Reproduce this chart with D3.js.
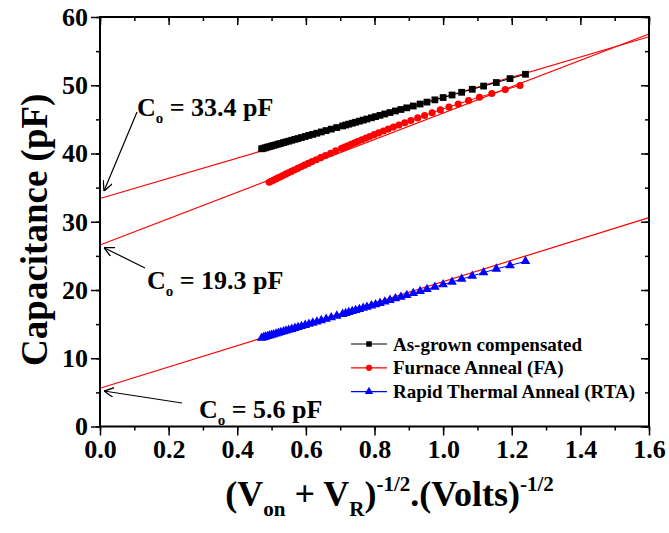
<!DOCTYPE html>
<html>
<head>
<meta charset="utf-8">
<script src="https://cdnjs.cloudflare.com/ajax/libs/d3/7.8.5/d3.min.js"></script>
<style>
    html, body { margin: 0; padding: 0; background: #fff; }
    #chart { width: 669px; height: 533px; }
    text { font-family: "Liberation Serif", "Times New Roman", serif; font-weight: bold; }
</style>
</head>
<body>
<div id="chart"></div>
<script>
// data

var seriesNames = ['As-grown compensated', 'Furnace Anneal (FA)', 'Rapid Thermal Anneal (RTA)'];
var seriesColors = ['#000000', '#ff0000', '#0000ff'];

// x for as-grown and RTA
var xGrown = [1.240, 1.195, 1.155, 1.118, 1.085, 1.054, 1.026, 1.000, 0.976, 0.953, 0.933, 0.913, 0.894, 0.877,
    0.861, 0.845, 0.830, 0.816, 0.803, 0.791, 0.778, 0.767, 0.756, 0.745, 0.735, 0.725, 0.716, 0.707,
    0.690, 0.674, 0.659, 0.645, 0.632, 0.620, 0.609, 0.598, 0.587, 0.577, 0.568, 0.559, 0.550, 0.542,
    0.535, 0.527, 0.520, 0.513, 0.506, 0.500, 0.494, 0.488, 0.482, 0.477, 0.471];

var yGrown = [51.61, 50.97, 50.40, 49.88, 49.41, 48.97, 48.57, 48.20, 47.86, 47.53, 47.25, 46.96, 46.69, 46.45,
    46.23, 46.00, 45.79, 45.59, 45.40, 45.23, 45.05, 44.89, 44.74, 44.58, 44.44, 44.30, 44.17, 44.04,
    43.80, 43.57, 43.36, 43.16, 42.97, 42.80, 42.65, 42.49, 42.34, 42.19, 42.07, 41.94, 41.81, 41.70,
    41.60, 41.48, 41.38, 41.28, 41.19, 41.10, 41.01, 40.93, 40.84, 40.77, 40.69];

var xFA = [1.224, 1.181, 1.142, 1.106, 1.074, 1.044, 1.017, 0.992, 0.968, 0.946, 0.926, 0.906, 0.888, 0.871,
    0.855, 0.840, 0.826, 0.812, 0.799, 0.786, 0.775, 0.763, 0.752, 0.742, 0.732, 0.722, 0.713, 0.704,
    0.687, 0.672, 0.657, 0.643, 0.630, 0.618, 0.607, 0.596, 0.586, 0.576, 0.566, 0.558, 0.549, 0.541,
    0.533, 0.526, 0.519, 0.512, 0.505, 0.499, 0.493];

var yFA = [49.96, 49.36, 48.79, 48.25, 47.75, 47.26, 46.81, 46.39, 45.97, 45.57, 45.21, 44.84, 44.50, 44.18,
    43.87, 43.58, 43.30, 43.02, 42.76, 42.49, 42.26, 42.01, 41.78, 41.57, 41.36, 41.14, 40.95, 40.75,
    40.38, 40.04, 39.70, 39.39, 39.09, 38.81, 38.55, 38.29, 38.06, 37.82, 37.58, 37.38, 37.17, 36.97,
    36.77, 36.60, 36.43, 36.25, 36.08, 35.93, 35.78];

var yRTA = [24.20, 23.60, 23.09, 22.55, 22.06, 21.60, 21.18, 20.80, 20.44, 20.10, 19.81, 19.51, 19.23, 18.98,
    18.74, 18.51, 18.28, 18.08, 17.88, 17.71, 17.51, 17.35, 17.19, 17.03, 16.88, 16.73, 16.60, 16.46,
    16.21, 15.98, 15.75, 15.55, 15.35, 15.18, 15.01, 14.85, 14.69, 14.54, 14.41, 14.27, 14.14, 14.02,
    13.92, 13.80, 13.70, 13.59, 13.49, 13.40, 13.31, 13.22, 13.13, 13.06, 12.97];

// linear fits, value at x = 0 and at x = 1.6
var fitStart = [33.4, 26.6, 5.6];
var fitEnd = [57.1, 57.5, 30.6];

var xTicks = [0.0, 0.2, 0.4, 0.6, 0.8, 1.0, 1.2, 1.4, 1.6];
var yTicks = [0, 10, 20, 30, 40, 50, 60];

// annotations: label, value the arrow points to
var notes = ['33.4', '19.3', '5.6'];
var noteTargets = [34.5, 26.2, 5.2];


function Chart() {
    this.config = {
        width: 669,
        height: 533,
        plot: { left: 100, right: 649, top: 17, bottom: 426.5 },
        tick: { major: 9, minor: 4 },
        fontTick: 26,
        fontTitle: 36
    };
    this.svg = null;
    this.x = null;
    this.y = null;
}

Chart.prototype.init = function(element) {
    var c = this.config;
    this.svg = d3.select(element).append('svg')
        .attr('width', c.width)
        .attr('height', c.height);
    this.x = d3.scaleLinear().domain([0, 1.6]).range([c.plot.left, c.plot.right]);
    this.y = d3.scaleLinear().domain([0, 60]).range([c.plot.bottom, c.plot.top]);
    this.svg.append('defs').append('marker')
        .attr('id', 'arrow')
        .attr('viewBox', '0 0 10 10')
        .attr('refX', 10).attr('refY', 5)
        .attr('markerWidth', 10).attr('markerHeight', 10)
        .attr('markerUnits', 'userSpaceOnUse')
        .attr('orient', 'auto')
        .append('path')
        .attr('d', 'M0,0 L10,5 L0,10')
        .attr('fill', 'none')
        .attr('stroke', '#000')
        .attr('stroke-width', 1.3);
};

Chart.prototype.draw = function() {
    this.drawFits();
    this.drawSeries(xGrown, yGrown, 0, d3.symbolSquare, 46);
    this.drawSeries(xFA, yFA, 1, d3.symbolCircle, 40);
    this.drawSeries(xGrown, yRTA, 2, d3.symbolTriangle, 40);
    this.drawAxes();
    this.drawNotes();
    this.drawLegend();
    this.drawTitles();
};

Chart.prototype.drawFits = function() {
    var self = this;
    var g = this.svg.append('g').attr('class', 'fits');
    g.selectAll('line').data(fitStart).enter().append('line')
        .attr('x1', self.x(0))
        .attr('y1', function(d) { return self.y(d); })
        .attr('x2', self.x(1.6))
        .attr('y2', function(d, i) { return self.y(fitEnd[i]); })
        .attr('stroke', '#ff0000')
        .attr('stroke-width', 1.2);
};

Chart.prototype.drawSeries = function(xs, ys, index, symbol, size) {
    var self = this,
        color = seriesColors[index],
        pts = xs.map(function(v, i) { return [v, ys[i]]; });
    var g = this.svg.append('g').attr('class', 'series series-' + index);
    g.append('path')
        .attr('d', d3.line().x(function(d) { return self.x(d[0]); }).y(function(d) { return self.y(d[1]); })(pts))
        .attr('fill', 'none')
        .attr('stroke', color)
        .attr('stroke-width', 1);
    g.selectAll('path.pt').data(pts).enter().append('path')
        .attr('class', 'pt')
        .attr('d', d3.symbol().type(symbol).size(size))
        .attr('transform', function(d) { return 'translate(' + self.x(d[0]) + ',' + self.y(d[1]) + ')'; })
        .attr('fill', color);
};

Chart.prototype.drawAxes = function() {
    var c = this.config,
        xMinor = d3.range(0, 17).map(function(i) { return i / 10; }),
        yMinor = d3.range(0, 13).map(function(i) { return i * 5; });

    this.svg.append('g').attr('transform', 'translate(0,' + c.plot.bottom + ')')
        .call(d3.axisBottom(this.x).tickValues(xMinor).tickSize(c.tick.minor).tickFormat(''));
    this.svg.append('g').attr('transform', 'translate(0,' + c.plot.bottom + ')')
        .call(d3.axisBottom(this.x).tickValues(xTicks).tickSize(c.tick.major).tickPadding(4).tickFormat(d3.format('.1f')));
    this.svg.append('g').attr('transform', 'translate(0,' + c.plot.top + ')')
        .call(d3.axisBottom(this.x).tickValues(xMinor).tickSize(c.tick.minor).tickFormat(''));
    this.svg.append('g').attr('transform', 'translate(0,' + c.plot.top + ')')
        .call(d3.axisBottom(this.x).tickValues(xTicks).tickSize(c.tick.major - 1).tickFormat(''));

    this.svg.append('g').attr('transform', 'translate(' + c.plot.left + ',0)')
        .call(d3.axisLeft(this.y).tickValues(yMinor).tickSize(c.tick.minor).tickFormat(''));
    this.svg.append('g').attr('transform', 'translate(' + c.plot.left + ',0)')
        .call(d3.axisLeft(this.y).tickValues(yTicks).tickSize(c.tick.major).tickPadding(3).tickFormat(d3.format('d')));
    this.svg.append('g').attr('transform', 'translate(' + c.plot.right + ',0)')
        .call(d3.axisLeft(this.y).tickValues(yMinor).tickSize(c.tick.minor).tickFormat(''));
    this.svg.append('g').attr('transform', 'translate(' + c.plot.right + ',0)')
        .call(d3.axisLeft(this.y).tickValues(yTicks).tickSize(c.tick.major - 1).tickFormat(''));

    this.svg.selectAll('.domain').remove();
    this.svg.selectAll('.tick line').attr('stroke', '#000').attr('stroke-width', 1.5);
    this.svg.selectAll('.tick text')
        .attr('font-size', c.fontTick)
        .attr('font-family', '"Liberation Serif", serif')
        .attr('font-weight', 'bold')
        .attr('fill', '#000');

    this.svg.append('rect')
        .attr('x', c.plot.left)
        .attr('y', c.plot.top)
        .attr('width', c.plot.right - c.plot.left)
        .attr('height', c.plot.bottom - c.plot.top)
        .attr('fill', 'none')
        .attr('stroke', '#000')
        .attr('stroke-width', 2);
};

Chart.prototype.drawNotes = function() {
    var self = this;
    // label anchor (px) and arrow start (px) per note
    var layout = [
        { tx: 137, ty: 116, ax: 137, ay: 112 },
        { tx: 147, ty: 289, ax: 145, ay: 268 },
        { tx: 199, ty: 418, ax: 182, ay: 403 }
    ];
    notes.forEach(function(n, i) {
        var l = layout[i];
        var t = self.svg.append('text')
            .attr('x', l.tx)
            .attr('y', l.ty)
            .attr('font-size', 26)
            .attr('fill', '#000');
        t.append('tspan').text('C');
        t.append('tspan').attr('font-size', 15).attr('dy', 7).text('o');
        t.append('tspan').attr('dy', -7).text(' = ' + n + ' pF');
        self.svg.append('line')
            .attr('x1', l.ax).attr('y1', l.ay)
            .attr('x2', self.x(0) + 4).attr('y2', self.y(noteTargets[i]))
            .attr('stroke', '#000')
            .attr('stroke-width', 1.2)
            .attr('marker-end', 'url(#arrow)');
    });
};

Chart.prototype.drawLegend = function() {
    var symbols = [d3.symbolSquare, d3.symbolCircle, d3.symbolTriangle];
    var g = this.svg.append('g').attr('transform', 'translate(351,344)');
    seriesNames.forEach(function(name, i) {
        var row = g.append('g').attr('transform', 'translate(0,' + (i * 23.8) + ')');
        row.append('line')
            .attr('x1', 0).attr('x2', 36)
            .attr('stroke', seriesColors[i])
            .attr('stroke-width', 1.2);
        row.append('path')
            .attr('d', d3.symbol().type(symbols[i]).size(30))
            .attr('transform', 'translate(18,0)')
            .attr('fill', seriesColors[i]);
        row.append('text')
            .attr('x', 42)
            .attr('y', 6.5)
            .attr('font-size', 19)
            .attr('fill', '#000')
            .text(name);
    });
};

Chart.prototype.drawTitles = function() {
    var c = this.config;
    this.svg.append('text')
        .attr('transform', 'translate(47,' + ((c.plot.top + c.plot.bottom) / 2 + 8) + ') rotate(-90)')
        .attr('text-anchor', 'middle')
        .attr('font-size', 37)
        .attr('fill', '#000')
        .text('Capacitance (pF)');

    var t = this.svg.append('text')
        .attr('x', (c.plot.left + c.plot.right) / 2 + 15)
        .attr('y', 506)
        .attr('text-anchor', 'middle')
        .attr('font-size', c.fontTitle)
        .attr('fill', '#000');
    t.append('tspan').text('(V');
    t.append('tspan').attr('font-size', 21).attr('dy', 10).text('on');
    t.append('tspan').attr('dy', -10).text(' + V');
    t.append('tspan').attr('font-size', 21).attr('dy', 10).text('R');
    t.append('tspan').attr('dy', -10).text(')');
    t.append('tspan').attr('font-size', 21).attr('dy', -15).text('-1/2');
    t.append('tspan').attr('dy', 15).text('.(Volts)');
    t.append('tspan').attr('font-size', 21).attr('dy', -15).text('-1/2');
};

var chart = new Chart();
chart.init('#chart');
chart.draw();
</script>
</body>
</html>
